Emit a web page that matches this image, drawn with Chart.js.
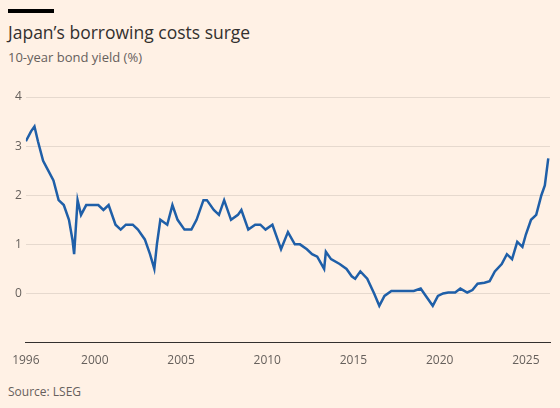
<!DOCTYPE html>
<html><head><meta charset="utf-8">
<script src="https://cdn.jsdelivr.net/npm/chart.js@4"></script>
<style>
body{margin:0;background:#FFF1E5;font-family:"Open Sans",sans-serif;}
#wrap{position:relative;width:560px;height:408px;}
#bar{position:absolute;left:8px;top:9px;width:46px;height:4px;background:#000;}
#title{position:absolute;left:8px;top:20px;font-size:17.5px;color:#33302e;}
#sub{position:absolute;left:8px;top:48px;font-size:13px;color:#66605c;}
#src{position:absolute;left:8px;top:383px;font-size:12px;color:#66605c;}
canvas{position:absolute;left:0;top:0;}
</style></head><body>
<div id="wrap"><div id="bar"></div><div id="title">Japan’s borrowing costs surge</div>
<div id="sub">10-year bond yield (%)</div><div id="src">Source: LSEG</div>
<canvas id="c" width="560" height="408"></canvas></div>
<script>
const years=[1996.0,1996.3,1996.5,1996.7,1997.0,1997.3,1997.6,1997.9,1998.2,1998.5,1998.7,1998.8,1999.0,1999.2,1999.5,1999.8,2000.2,2000.5,2000.8,2001.2,2001.5,2001.8,2002.2,2002.5,2002.9,2003.2,2003.45,2003.6,2003.8,2004.2,2004.5,2004.8,2005.2,2005.6,2005.9,2006.3,2006.5,2006.9,2007.2,2007.5,2007.9,2008.3,2008.5,2008.9,2009.3,2009.6,2009.9,2010.3,2010.6,2010.8,2011.2,2011.6,2011.9,2012.3,2012.6,2012.9,2013.3,2013.4,2013.7,2014.2,2014.6,2014.9,2015.1,2015.4,2015.8,2016.2,2016.5,2016.8,2017.2,2017.6,2018.0,2018.5,2018.9,2019.2,2019.6,2019.9,2020.2,2020.5,2020.9,2021.2,2021.6,2021.9,2022.2,2022.6,2022.9,2023.2,2023.6,2023.9,2024.2,2024.5,2024.8,2025.0,2025.3,2025.6,2025.9,2026.1,2026.3];
const yields=[3.1,3.3,3.4,3.1,2.7,2.5,2.3,1.9,1.8,1.5,1.1,0.8,1.9,1.6,1.8,1.8,1.8,1.7,1.8,1.4,1.3,1.4,1.4,1.3,1.1,0.8,0.5,1.0,1.5,1.4,1.8,1.5,1.3,1.3,1.5,1.9,1.9,1.7,1.6,1.9,1.5,1.6,1.7,1.3,1.4,1.4,1.3,1.4,1.1,0.9,1.25,1.0,1.0,0.9,0.8,0.75,0.5,0.85,0.7,0.6,0.5,0.35,0.3,0.45,0.3,0.0,-0.25,-0.05,0.05,0.05,0.05,0.05,0.1,-0.05,-0.25,-0.05,0.0,0.02,0.02,0.1,0.02,0.07,0.2,0.22,0.25,0.45,0.6,0.8,0.7,1.05,0.95,1.2,1.5,1.6,2.0,2.2,2.75];
const xTicks=[1996,2000,2005,2010,2015,2020,2025];
const yTicks=[-1,0,1,2,3,4];
new Chart(document.getElementById('c'),{type:'line',
data:{datasets:[{data:years.map((x,i)=>({x,y:yields[i]})),borderColor:'#1f5fa8',borderWidth:2.5,pointRadius:0,tension:0}]},
options:{responsive:false,animation:false,layout:{padding:{left:11,right:10,top:97,bottom:37}},
plugins:{legend:{display:false},tooltip:{enabled:false}},
scales:{x:{type:'linear',min:1996,max:2026.4,afterBuildTicks:a=>{a.ticks=xTicks.map(v=>({value:v}));},
ticks:{color:'#66605c',font:{size:12,family:'Open Sans'},maxRotation:0,autoSkip:false,callback:v=>String(v)},
grid:{display:false},border:{color:'#33302e',width:1}},
y:{min:-1,max:4,afterBuildTicks:a=>{a.ticks=yTicks.map(v=>({value:v}));},
ticks:{color:'#66605c',font:{size:12,family:'Open Sans'},padding:4,callback:v=>v<0?'':String(v)},
grid:{color:'#e6d9ce',drawTicks:false},border:{display:false}}}}});
</script></body></html>
